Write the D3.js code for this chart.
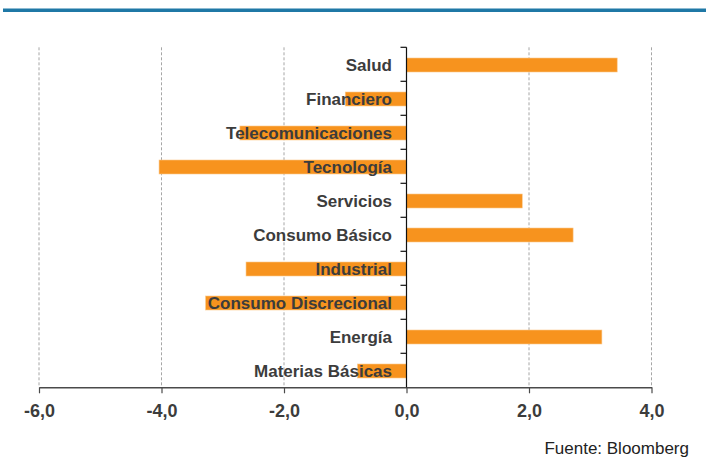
<!DOCTYPE html>
<html>
<head>
<meta charset="utf-8">
<script src="https://cdn.jsdelivr.net/npm/d3@7"></script>
<style>
  html, body { margin: 0; padding: 0; background: #ffffff; }
  svg { display: block; }
</style>
</head>
<body>
<svg id="chart" width="709" height="457"></svg>
<script>
// Sector performance (%), top to bottom
const categories = [
  "Salud", "Financiero", "Telecomunicaciones", "Tecnología", "Servicios",
  "Consumo Básico", "Industrial", "Consumo Discrecional", "Energía", "Materias Básicas"
];
const values = [3.44, -1.0, -2.72, -4.04, 1.89, 2.72, -2.62, -3.28, 3.19, -0.80];
const tickValues = [-6, -4, -2, 0, 2, 4];
const tickLabels = ["-6,0", "-4,0", "-2,0", "0,0", "2,0", "4,0"];
const source = "Fuente: Bloomberg";

const svg = d3.select("#chart");
const W = 709;

const x = d3.scaleLinear().domain([-6, 4]).range([39, 651.5]);
const y = d3.scaleBand().domain(categories).range([47.3, 387.3]).padding(0);

const fontFamily = "'Liberation Sans', Arial, sans-serif";
const textColor = "#3c3c3c";

// Header rule
svg.append("rect")
  .attr("x", 3).attr("y", 8.5)
  .attr("width", W - 6).attr("height", 3.5)
  .attr("fill", "#1f78a6");

// Vertical dashed gridlines
svg.append("g")
  .selectAll("line")
  .data(tickValues.filter(d => d !== 0))
  .join("line")
  .attr("x1", d => x(d)).attr("x2", d => x(d))
  .attr("y1", y.range()[0]).attr("y2", y.range()[1])
  .attr("stroke", "#a6a6a6")
  .attr("stroke-width", 1)
  .attr("stroke-dasharray", "3,2");

// Bars
const barH = 14;
svg.append("g")
  .selectAll("rect")
  .data(categories.map((c, i) => ({ c, v: values[i] })))
  .join("rect")
  .attr("x", d => x(Math.min(0, d.v)))
  .attr("width", d => Math.abs(x(d.v) - x(0)))
  .attr("y", d => y(d.c) + y.bandwidth() / 2 - barH / 2 + 0.7)
  .attr("height", barH)
  .attr("fill", "#f7931e")
  .attr("stroke", "#fbc88a")
  .attr("stroke-width", 0.6);

// X axis
const xAxis = d3.axisBottom(x)
  .tickValues(tickValues)
  .tickSize(6)
  .tickSizeOuter(0)
  .tickFormat((d, i) => tickLabels[i]);

const gx = svg.append("g")
  .attr("transform", `translate(0,${y.range()[1]})`)
  .call(xAxis);
gx.select(".domain").attr("stroke", "#4a4a4a").attr("stroke-width", 1.5);
gx.selectAll(".tick line").attr("stroke", "#4a4a4a").attr("stroke-width", 1.2);
gx.selectAll(".tick text")
  .attr("y", 17)
  .attr("dy", "0.71em")
  .attr("fill", textColor)
  .style("font-family", fontFamily)
  .style("font-size", "18px")
  .style("font-weight", "bold");

// Y axis at zero with category ticks at band boundaries
const gy = svg.append("g");
gy.append("line")
  .attr("x1", x(0)).attr("x2", x(0))
  .attr("y1", y.range()[0]).attr("y2", y.range()[1])
  .attr("stroke", "#111111").attr("stroke-width", 1.2);
gy.selectAll("line.bt")
  .data(categories)
  .join("line")
  .attr("class", "bt")
  .attr("x1", x(0) - 6).attr("x2", x(0))
  .attr("y1", d => y(d)).attr("y2", d => y(d))
  .attr("stroke", "#111111").attr("stroke-width", 1.2);

// Category labels (drawn over the bars)
svg.append("g")
  .selectAll("text")
  .data(categories)
  .join("text")
  .attr("x", x(0) - 14.5)
  .attr("y", d => y(d) + y.bandwidth() / 2)
  .attr("dy", "0.37em")
  .attr("text-anchor", "end")
  .attr("fill", textColor)
  .style("font-family", fontFamily)
  .style("font-size", "17px")
  .style("font-weight", "bold")
  .text(d => d);

// Source note
svg.append("text")
  .attr("x", 689)
  .attr("y", 454)
  .attr("text-anchor", "end")
  .attr("fill", "#222222")
  .style("font-family", fontFamily)
  .style("font-size", "17px")
  .text(source);
</script>
</body>
</html>
